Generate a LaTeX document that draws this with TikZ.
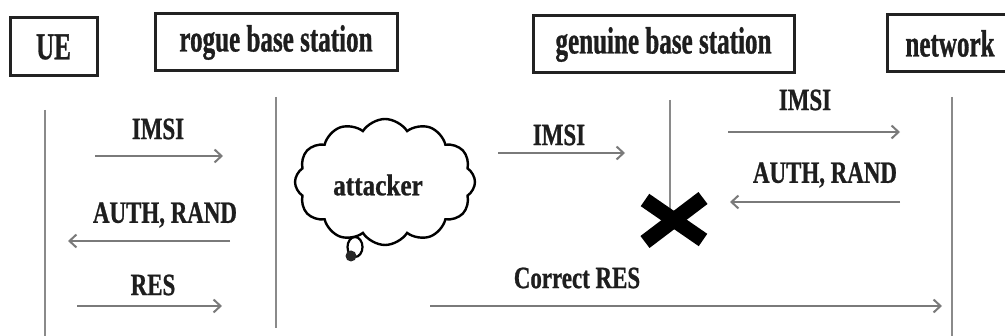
\documentclass[tikz,border=0pt]{standalone}
\usepackage{fontspec}
\setmainfont{Liberation Serif}
\newfontfamily\headfont{Liberation Serif}[FakeStretch=0.66, FakeBold=0.8]
\newfontfamily\msgfont{Liberation Serif}[FakeStretch=0.74, FakeBold=0.8]
\newfontfamily\cloudfont{Liberation Serif}[FakeStretch=0.84, FakeBold=0.8]
\usetikzlibrary{shapes.symbols,arrows.meta}

\definecolor{boxc}{HTML}{222222}
\definecolor{txtc}{HTML}{1E1E1E}
\definecolor{lifec}{HTML}{8A8A8A}
\definecolor{arrc}{HTML}{7A7A7A}

\tikzset{
  actor/.style={draw=boxc, line width=3pt, inner sep=0pt, text=txtc,
    font=\headfont\bfseries\fontsize{38}{40}\selectfont},
  life/.style={draw=lifec, line width=1.5pt},
  msg/.style={draw=arrc, line width=2pt,
    -{Straight Barb[length=7pt,width=13pt]}},
  lbl/.style={inner sep=0pt, text=txtc,
    font=\msgfont\bfseries\fontsize{31}{33}\selectfont},
}

\begin{document}
\begin{tikzpicture}[x=1pt, y=-1pt]
\useasboundingbox (0,0) rectangle (1005,336);
\clip (0,0) rectangle (1005,336);

% participants
\node[actor, minimum width=87pt, minimum height=58pt] (ue) at (53.5,47) {UE};
\node[actor, minimum width=242pt, minimum height=57pt] (rogue) at (276,42.5) {rogue base station};
\node[actor, minimum width=261pt, minimum height=57pt] (genuine) at (663.5,44.5) {genuine base station};
\node[actor, minimum width=126pt, minimum height=57pt] (network) at (950,43.5) {network};

% lifelines
\coordinate (ueTop) at (45,110);   \coordinate (ueBot) at (45,340);
\coordinate (rgTop) at (276,97);   \coordinate (rgBot) at (276,328);
\coordinate (gnTop) at (670,100);  \coordinate (gnBot) at (670,215);
\coordinate (nwTop) at (952,97);   \coordinate (nwBot) at (952,340);
\draw[life] (ueTop) -- (ueBot);
\draw[life] (rgTop) -- (rgBot);
\draw[life] (gnTop) -- (gnBot);
\draw[life] (nwTop) -- (nwBot);

% broken link at the genuine base station
\node[inner sep=0pt, minimum size=0pt] (cross) at (674,220) {};
\draw[line width=15pt, draw=black] ([shift={(-29,-20)}]cross.center) -- ([shift={(29,20)}]cross.center);
\draw[line width=15pt, draw=black] ([shift={(29,-22)}]cross.center) -- ([shift={(-29,22)}]cross.center);

% attacker
\node[cloud, cloud puffs=12, cloud puff arc=115, draw=black, line width=2.4pt,
      minimum width=180pt, minimum height=126pt, aspect=1.45, inner sep=0pt] (cloud) at (385,182) {};
\node[inner sep=0pt, text=txtc, font=\cloudfont\bfseries\fontsize{30}{32}\selectfont] (att) at (378,185) {attacker};
\draw[line width=2.2pt] (355,247) ellipse [x radius=7.5pt, y radius=10pt];
\node[circle, fill=black!85, minimum size=11pt, inner sep=0pt] (blob) at (351,256) {};

% messages between UE and rogue base station
\coordinate (m1s) at (95,156);  \coordinate (m1e) at (223,156);
\coordinate (m2s) at (230,241); \coordinate (m2e) at (68,241);
\coordinate (m3s) at (77,306);  \coordinate (m3e) at (222,306);
\draw[msg] (m1s) -- (m1e);
\draw[msg] (m2s) -- (m2e);
\draw[msg] (m3s) -- (m3e);
\node[lbl] (l1) at (158,129) {IMSI};
\node[lbl] (l2) at (165,215) {AUTH, RAND};
\node[lbl] (l3) at (153,285) {RES};

% messages towards the genuine network
\coordinate (m4s) at (498,153); \coordinate (m4e) at (625,153);
\coordinate (m5s) at (728,132); \coordinate (m5e) at (900,132);
\coordinate (m6s) at (900,202); \coordinate (m6e) at (730,202);
\coordinate (m7s) at (430,306); \coordinate (m7e) at (942,306);
\draw[msg] (m4s) -- (m4e);
\draw[msg] (m5s) -- (m5e);
\draw[msg] (m6s) -- (m6e);
\draw[msg] (m7s) -- (m7e);
\node[lbl] (l4) at (559,135) {IMSI};
\node[lbl] (l5) at (805,100) {IMSI};
\node[lbl] (l6) at (825,175) {AUTH, RAND};
\node[lbl] (l7) at (577,278) {Correct RES};
\end{tikzpicture}
\end{document}
